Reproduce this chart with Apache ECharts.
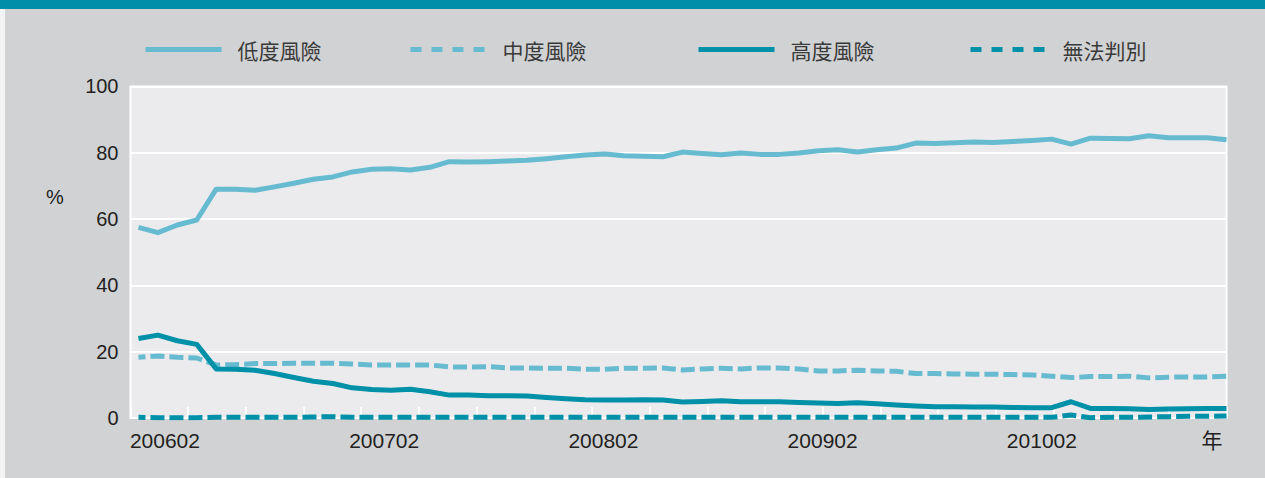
<!DOCTYPE html>
<html>
<head>
<meta charset="utf-8">
<script src="https://cdn.jsdelivr.net/npm/echarts@6/dist/echarts.min.js"></script>
<style>
html,body{margin:0;padding:0;background:#d1d2d4;}
#c{width:1265px;height:478px;}
</style>
</head>
<body>
<div id="c"></div>
<script>
// ---- data ----
const months = [
  '200602','200603','200604','200605','200606','200607','200608','200609','200610','200611','200612',
  '200701','200702','200703','200704','200705','200706','200707','200708','200709','200710','200711','200712',
  '200801','200802','200803','200804','200805','200806','200807','200808','200809','200810','200811','200812',
  '200901','200902','200903','200904','200905','200906','200907','200908','200909','200910','200911','200912',
  '201001','201002','201003','201004','201005','201006','201007','201008','201009','201010'
];
const tickLabels = ['200602','200702','200802','200902','201002'];
const seriesNames = ['低度風險','中度風險','高度風險','無法判別'];
const lowRisk = [
  57.5,55.9,58.2,59.7,69.0,69.0,68.7,69.7,70.8,72.0,72.7,74.2,75.0,75.2,74.8,75.6,77.3,77.2,77.3,
  77.5,77.7,78.2,78.8,79.3,79.6,79.1,78.9,78.8,80.2,79.8,79.4,79.9,79.5,79.5,79.9,80.6,80.9,80.2,80.9,81.4,
  82.9,82.8,83.0,83.2,83.1,83.4,83.7,84.1,82.6,84.4,84.3,84.2,85.1,84.5,84.5,84.5,83.9
];
const midRisk = [
  18.3,18.7,18.3,18.1,16.0,16.1,16.4,16.4,16.5,16.5,16.5,16.3,16.0,16.0,16.0,16.0,15.4,15.4,15.5,
  15.1,15.1,15.0,15.0,14.7,14.7,15.0,15.0,15.1,14.5,14.8,15.0,14.8,15.1,15.1,14.8,14.2,14.2,14.4,14.2,14.1,
  13.4,13.4,13.3,13.2,13.2,13.1,13.0,12.6,12.2,12.5,12.5,12.6,12.1,12.3,12.4,12.4,12.6
];
const highRisk = [
  24.0,25.0,23.3,22.2,14.8,14.7,14.4,13.4,12.2,11.1,10.4,9.1,8.6,8.4,8.7,7.9,6.9,6.9,6.7,
  6.7,6.6,6.2,5.8,5.5,5.4,5.4,5.5,5.4,4.8,5.0,5.2,4.9,4.9,4.9,4.7,4.5,4.4,4.6,4.3,3.9,
  3.6,3.4,3.4,3.3,3.3,3.2,3.1,3.1,4.9,2.9,2.9,2.8,2.6,2.7,2.8,2.9,2.9
];
const unknown = [
  0.2,0.1,0.1,0.1,0.2,0.2,0.2,0.2,0.2,0.3,0.4,0.2,0.2,0.2,0.2,0.2,0.2,0.2,0.2,
  0.2,0.2,0.2,0.2,0.2,0.2,0.2,0.2,0.2,0.2,0.2,0.2,0.2,0.2,0.2,0.2,0.2,0.2,0.2,0.2,0.2,
  0.2,0.2,0.2,0.2,0.2,0.2,0.2,0.2,0.9,0.1,0.2,0.2,0.3,0.4,0.5,0.5,0.6
];
const yUnit = '%';
const xUnit = '年';

// ---- styles ----
const LIGHT = '#67bbd0';
const DARK = '#0090a8';
const TXT = '#231f20';
const NUMFONT = '"Liberation Sans", Arial, sans-serif';
const CJKFONT = '"Noto Sans CJK TC", "Noto Sans CJK SC", sans-serif';

const chart = echarts.init(document.getElementById('c'), null, {renderer: 'svg'});

const legendBase = {
  top: 39, padding: 0, itemWidth: 76, itemHeight: 14, selectedMode: false,
  itemStyle: {opacity: 0},
  textStyle: {fontSize: 21, color: '#3a3a3a', fontFamily: CJKFONT, padding: [0, 0, 0, 11]}
};

function line(name, data, color, dashed) {
  return {
    name: name, type: 'line', xAxisIndex: 1, yAxisIndex: 0,
    symbol: 'none', silent: true,
    data: data.map((v, i) => [i, v]),
    lineStyle: dashed
      ? {color: color, width: 5, type: [14, 5], dashOffset: 7, cap: 'butt', join: 'round'}
      : {color: color, width: 5, cap: 'butt', join: 'round'},
    itemStyle: {color: color}
  };
}

chart.setOption({
  animation: false,
  backgroundColor: '#d1d2d4',
  graphic: [
    {type: 'rect', left: 0, top: 0, shape: {width: 1265, height: 9}, style: {fill: '#008ea8'}},
    {type: 'rect', left: 0, top: 9, shape: {width: 5, height: 469}, style: {fill: '#f3f3f3'}},
    {type: 'text', x: 55, y: 197, style: {text: yUnit, fontSize: 20, fill: TXT, fontFamily: NUMFONT, align: 'center', verticalAlign: 'middle'}}
  ],
  legend: [
    Object.assign({}, legendBase, {left: 143, data: [seriesNames[0]], lineStyle: {width: 5}}),
    Object.assign({}, legendBase, {left: 408, data: [seriesNames[1]], lineStyle: {width: 5, type: [11, 10], dashOffset: 0}}),
    Object.assign({}, legendBase, {left: 696, data: [seriesNames[2]], lineStyle: {width: 5}}),
    Object.assign({}, legendBase, {left: 968, data: [seriesNames[3]], lineStyle: {width: 5, type: [11, 10], dashOffset: 0}})
  ],
  grid: {
    left: 130.5, right: 38.5, top: 86.4, bottom: 60,
    show: true, backgroundColor: '#ebebed', borderColor: '#ffffff', borderWidth: 2
  },
  xAxis: [
    {
      type: 'category', data: months, boundaryGap: true, position: 'bottom',
      axisLine: {show: false},
      axisTick: {show: true, inside: true, length: 11, lineStyle: {color: '#ffffff', width: 2}},
      axisLabel: {show: false}, splitLine: {show: false}
    },
    {
      type: 'value', min: -0.41, max: months.length - 1, show: false
    },
    {
      type: 'value', min: -0.157, max: 4.842, position: 'bottom',
      axisLine: {show: false}, axisTick: {show: false}, splitLine: {show: false},
      axisLabel: {
        customValues: tickLabels.map((_, i) => i),
        formatter: v => (Number.isInteger(v) && tickLabels[v]) ? tickLabels[v] : '',
        fontSize: 21, color: TXT, fontFamily: NUMFONT, margin: 12
      },
      name: xUnit, nameLocation: 'end', nameGap: -14.5,
      nameTextStyle: {fontSize: 21, color: TXT, fontFamily: CJKFONT, align: 'center', verticalAlign: 'top', padding: [11, 0, 0, 0]}
    }
  ],
  yAxis: {
    type: 'value', min: 0, max: 100, interval: 20,
    axisLine: {show: false}, axisTick: {show: false},
    splitLine: {show: true, lineStyle: {color: '#ffffff', width: 2}},
    axisLabel: {fontSize: 20, color: TXT, fontFamily: NUMFONT, margin: 12}
  },
  series: [
    line(seriesNames[0], lowRisk, LIGHT, false),
    line(seriesNames[1], midRisk, LIGHT, true),
    line(seriesNames[2], highRisk, DARK, false),
    line(seriesNames[3], unknown, DARK, true)
  ]
});
</script>
</body>
</html>
